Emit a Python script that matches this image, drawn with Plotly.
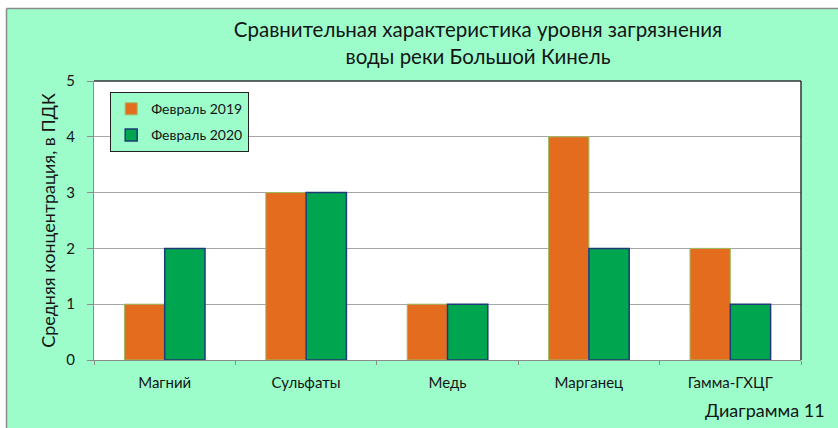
import plotly.graph_objects as go

categories = ["Магний", "Сульфаты", "Медь", "Марганец", "Гамма-ГХЦГ"]
feb2019 = [1, 3, 1, 4, 2]
feb2020 = [2, 3, 1, 2, 1]
series_names = ["Февраль 2019", "Февраль 2020"]
y_ticks = [0, 1, 2, 3, 4, 5]

BG = "#9CFDCB"
FONT = "Lato"
TXT = "#151515"

fig = go.Figure()
fig.add_trace(go.Bar(
    x=categories, y=feb2019, name=series_names[0], legendgroup="a",
    marker=dict(color="#E46C1E", line=dict(color="#9DBB61", width=1)),
))
fig.add_trace(go.Bar(
    x=categories, y=feb2020, name=series_names[1], legendgroup="b",
    marker=dict(color="#00A550", line=dict(color="#1F3A78", width=1.5)),
))

L, R, T, B = 94, 37, 81, 68
W, H = 838, 428
pw, ph = W - L - R, H - T - B

def px_x(p):
    return (p - L) / pw

def px_y(p):
    return (H - B - p) / ph

# white outside strips + grey frame of the chart area
fig.add_shape(type="rect", xref="paper", yref="paper",
              x0=px_x(-5), x1=px_x(6.5), y0=px_y(440), y1=px_y(-5),
              fillcolor="white", line=dict(width=0), layer="below")
fig.add_shape(type="rect", xref="paper", yref="paper",
              x0=px_x(-5), x1=px_x(845), y0=px_y(8.5), y1=px_y(-5),
              fillcolor="white", line=dict(width=0), layer="below")
fig.add_shape(type="line", xref="paper", yref="paper",
              x0=px_x(6.5), x1=px_x(845), y0=px_y(8.5), y1=px_y(8.5),
              line=dict(color="#8A8A8A", width=1.5))
fig.add_shape(type="line", xref="paper", yref="paper",
              x0=px_x(6.5), x1=px_x(6.5), y0=px_y(440), y1=px_y(8.5),
              line=dict(color="#8A8A8A", width=1.5))

fig.update_layout(
    width=W, height=H,
    margin=dict(l=L, r=R, t=T, b=B),
    paper_bgcolor=BG,
    plot_bgcolor="white",
    font=dict(family=FONT, color=TXT),
    barmode="group",
    bargap=0.43,
    bargroupgap=0,
    title=dict(
        text="Сравнительная характеристика уровня загрязнения<br>воды реки Большой Кинель",
        xref="container", x=478 / W, xanchor="center", y=1 - 37 / H, yanchor="middle",
        font=dict(size=20.5, family=FONT, color=TXT),
    ),
    legend=dict(
        x=px_x(110), y=px_y(92), xanchor="left", yanchor="top",
        bgcolor=BG, bordercolor="#222222", borderwidth=1.2,
        font=dict(size=14, family=FONT, color=TXT),
        traceorder="grouped", tracegroupgap=5,
        itemwidth=30,
    ),
    showlegend=True,
    xaxis=dict(
        showline=True, linecolor="#8C8C8C", linewidth=1, mirror=False,
        ticks="outside", tickson="boundaries", ticklen=4, tickcolor="#8C8C8C",
        tickfont=dict(size=15, family=FONT, color=TXT),
        ticklabelstandoff=9,
        showgrid=False,
    ),
    yaxis=dict(
        range=[0, 5], tickvals=y_ticks,
        showline=True, linecolor="#8C8C8C", linewidth=1,
        ticks="outside", ticklen=6, tickcolor="#8C8C8C",
        ticklabelstandoff=9,
        showgrid=True, gridcolor="#A6A6A6", gridwidth=1,
        tickfont=dict(size=15, family=FONT, color=TXT),
        title=dict(text="Средняя концентрация, в ПДК",
                   font=dict(size=18, family=FONT, color=TXT), standoff=5),
        zeroline=False,
    ),
)

# top and right plot border
fig.add_shape(type="line", xref="paper", yref="paper", x0=0, x1=1, y0=1, y1=1,
              line=dict(color="#333333", width=1.5))
fig.add_shape(type="line", xref="paper", yref="paper", x0=1, x1=1, y0=0, y1=1,
              line=dict(color="#333333", width=1.5))

fig.add_annotation(text="Диаграмма 11", xref="paper", yref="paper",
                   x=px_x(827), y=px_y(410), xanchor="right", yanchor="middle",
                   showarrow=False, font=dict(size=18, family=FONT, color=TXT))

fig.write_html("out.html", config={"displayModeBar": False},
               post_script="document.body.style.margin='0';")
